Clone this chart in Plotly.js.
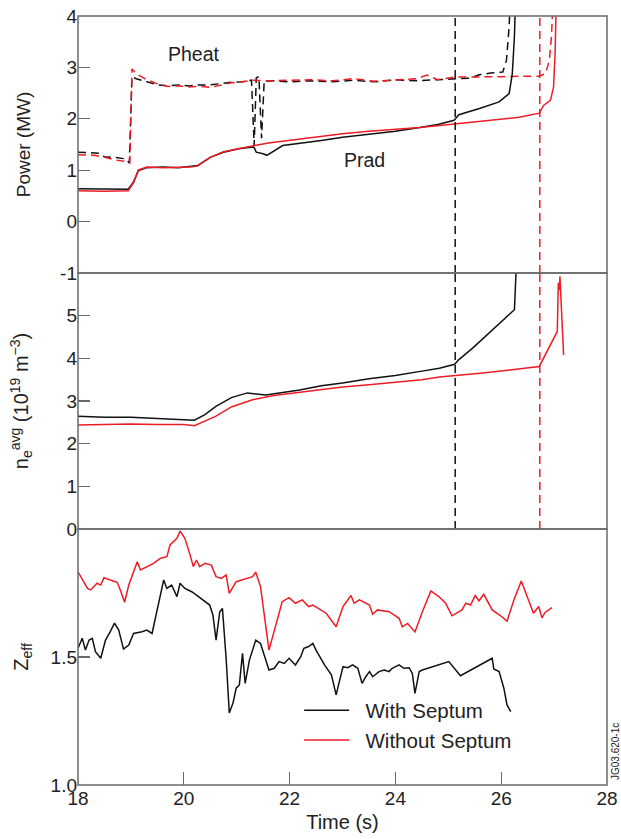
<!DOCTYPE html>
<html>
<head>
<meta charset="utf-8">
<script src="https://cdn.plot.ly/plotly-3.0.1.min.js"></script>
<style>
  html, body { margin: 0; padding: 0; background: #fff; }
  #chart { width: 621px; height: 839px; }
</style>
</head>
<body>
<div id="chart"></div>
<script>
// ---------- Data ----------
// Panel 1: heating power (dashed) and radiated power (solid), MW
const pheatWithT = [18.0, 18.2, 18.4, 18.5, 18.7, 18.9, 18.97, 19.02, 19.1, 19.3, 19.5, 19.7, 19.9, 20.1, 20.3, 20.5, 20.7, 20.9, 21.1, 21.28, 21.33, 21.37, 21.42, 21.47, 21.52, 21.55, 21.7, 22.0, 22.4, 22.8, 23.2, 23.6, 24.0, 24.4, 24.8, 25.1, 25.4, 25.6, 25.8, 26.03, 26.1, 26.15, 26.17];
const pheatWithV = [1.35, 1.34, 1.33, 1.26, 1.25, 1.22, 1.14, 2.82, 2.78, 2.72, 2.66, 2.64, 2.66, 2.64, 2.66, 2.66, 2.69, 2.71, 2.72, 2.75, 1.48, 2.80, 2.82, 1.62, 2.74, 2.73, 2.74, 2.72, 2.74, 2.72, 2.75, 2.72, 2.76, 2.74, 2.76, 2.77, 2.79, 2.86, 2.89, 2.91, 3.14, 3.8, 4.3];

const pheatWithoutT = [18.0, 18.3, 18.5, 18.7, 18.9, 18.98, 19.02, 19.1, 19.3, 19.5, 19.7, 19.9, 20.1, 20.3, 20.5, 20.7, 20.9, 21.1, 21.3, 21.6, 22.0, 22.4, 22.8, 23.2, 23.6, 24.0, 24.4, 24.6, 24.8, 25.1, 25.5, 26.0, 26.5, 26.72, 26.84, 26.91, 26.95, 26.98];
const pheatWithoutV = [1.30, 1.29, 1.25, 1.20, 1.17, 1.14, 2.97, 2.88, 2.76, 2.68, 2.63, 2.64, 2.62, 2.63, 2.61, 2.65, 2.70, 2.72, 2.75, 2.74, 2.75, 2.76, 2.74, 2.78, 2.73, 2.76, 2.78, 2.85, 2.76, 2.81, 2.82, 2.82, 2.83, 2.83, 2.88, 3.14, 3.6, 4.3];

const pradWithT = [18.0, 18.5, 18.95, 19.05, 19.14, 19.3, 19.6, 19.9, 20.1, 20.26, 20.5, 20.75, 21.06, 21.32, 21.34, 21.37, 21.5, 21.57, 21.87, 22.19, 22.6, 23.0, 23.5, 24.0, 24.46, 24.8, 25.11, 25.2, 25.59, 25.96, 26.15, 26.21, 26.25, 26.27];
const pradWithV = [0.64, 0.63, 0.63, 0.77, 0.99, 1.05, 1.06, 1.05, 1.07, 1.09, 1.25, 1.35, 1.42, 1.45, 1.42, 1.35, 1.32, 1.29, 1.48, 1.53, 1.58, 1.64, 1.70, 1.76, 1.83, 1.89, 1.97, 2.08, 2.20, 2.33, 2.49, 2.88, 3.6, 4.3];

const pradWithoutT = [18.0, 18.5, 18.95, 19.05, 19.14, 19.3, 19.6, 19.9, 20.1, 20.26, 20.5, 20.75, 21.06, 21.34, 21.6, 21.9, 22.19, 22.6, 23.0, 23.5, 24.0, 24.46, 25.11, 25.7, 26.34, 26.72, 26.8, 26.93, 26.99, 27.02, 27.04];
const pradWithoutV = [0.60, 0.59, 0.60, 0.76, 1.00, 1.06, 1.05, 1.06, 1.06, 1.08, 1.25, 1.36, 1.43, 1.48, 1.53, 1.57, 1.61, 1.66, 1.71, 1.76, 1.80, 1.83, 1.90, 1.96, 2.03, 2.11, 2.26, 2.36, 2.62, 3.3, 4.3];

// Panel 2: line-averaged density, 10^19 m^-3
const neWithT = [18.0, 18.5, 19.0, 19.4, 19.8, 20.2, 20.4, 20.6, 20.9, 21.2, 21.55, 21.9, 22.19, 22.6, 23.0, 23.5, 24.0, 24.5, 24.83, 25.12, 25.2, 25.46, 25.77, 26.09, 26.25, 26.28];
const neWithV = [2.64, 2.62, 2.62, 2.60, 2.57, 2.55, 2.68, 2.87, 3.08, 3.19, 3.14, 3.20, 3.26, 3.36, 3.42, 3.52, 3.60, 3.70, 3.77, 3.86, 3.97, 4.24, 4.59, 4.94, 5.14, 6.0];

const neWithoutT = [18.0, 18.5, 19.0, 19.5, 20.0, 20.2, 20.6, 20.9, 21.3, 21.7, 22.19, 22.6, 23.0, 23.5, 24.0, 24.5, 24.83, 25.11, 25.6, 26.2, 26.72, 27.06, 27.08, 27.1, 27.11, 27.18];
const neWithoutV = [2.44, 2.45, 2.46, 2.45, 2.45, 2.42, 2.64, 2.86, 3.03, 3.13, 3.20, 3.26, 3.33, 3.38, 3.44, 3.50, 3.56, 3.59, 3.65, 3.73, 3.81, 4.63, 5.77, 5.6, 5.92, 4.08];

// Panel 3: Zeff
const zeffWithT = [18.0, 18.08, 18.14, 18.21, 18.27, 18.33, 18.43, 18.52, 18.61, 18.69, 18.77, 18.86, 18.96, 19.05, 19.21, 19.3, 19.4, 19.49, 19.62, 19.68, 19.77, 19.87, 19.93, 20.02, 20.15, 20.24, 20.4, 20.49, 20.55, 20.61, 20.68, 20.73, 20.8, 20.86, 20.93, 20.99, 21.05, 21.11, 21.16, 21.24, 21.36, 21.45, 21.61, 21.71, 21.8, 21.9, 21.99, 22.11, 22.21, 22.27, 22.35, 22.44, 22.5, 22.57, 22.66, 22.79, 22.88, 22.94, 23.01, 23.1, 23.19, 23.29, 23.37, 23.44, 23.51, 23.57, 23.69, 23.79, 23.88, 23.94, 24.0, 24.07, 24.16, 24.26, 24.32, 24.37, 24.45, 24.51, 25.01, 25.23, 25.83, 25.86, 25.96, 26.05, 26.11, 26.18];
const zeffWithV = [1.534, 1.573, 1.527, 1.566, 1.573, 1.521, 1.495, 1.566, 1.599, 1.632, 1.605, 1.531, 1.547, 1.592, 1.599, 1.605, 1.592, 1.677, 1.801, 1.768, 1.781, 1.736, 1.788, 1.768, 1.755, 1.742, 1.716, 1.703, 1.664, 1.566, 1.677, 1.690, 1.495, 1.281, 1.320, 1.378, 1.391, 1.514, 1.397, 1.488, 1.566, 1.553, 1.449, 1.456, 1.482, 1.475, 1.495, 1.469, 1.501, 1.534, 1.540, 1.553, 1.527, 1.501, 1.469, 1.430, 1.352, 1.404, 1.462, 1.458, 1.469, 1.456, 1.397, 1.423, 1.443, 1.423, 1.443, 1.449, 1.443, 1.456, 1.462, 1.469, 1.456, 1.458, 1.436, 1.358, 1.443, 1.449, 1.482, 1.427, 1.495, 1.453, 1.443, 1.378, 1.313, 1.287];

const zeffWithoutT = [18.0, 18.18, 18.24, 18.36, 18.43, 18.49, 18.61, 18.74, 18.8, 18.88, 18.96, 19.05, 19.12, 19.18, 19.3, 19.43, 19.55, 19.68, 19.74, 19.87, 19.93, 20.02, 20.12, 20.18, 20.24, 20.3, 20.4, 20.52, 20.61, 20.71, 20.8, 20.86, 20.99, 21.17, 21.3, 21.36, 21.45, 21.61, 21.74, 21.86, 21.99, 22.11, 22.24, 22.36, 22.44, 22.69, 22.88, 23.01, 23.16, 23.22, 23.32, 23.51, 23.57, 23.66, 23.88, 24.07, 24.13, 24.23, 24.37, 24.51, 24.67, 24.82, 24.95, 25.07, 25.26, 25.33, 25.42, 25.51, 25.58, 25.67, 25.83, 25.99, 26.11, 26.24, 26.38, 26.49, 26.61, 26.71, 26.77, 26.83, 26.96];
const zeffWithoutV = [1.833, 1.768, 1.762, 1.788, 1.781, 1.810, 1.801, 1.792, 1.762, 1.714, 1.781, 1.833, 1.872, 1.840, 1.853, 1.866, 1.885, 1.892, 1.938, 1.964, 1.992, 1.964, 1.898, 1.853, 1.879, 1.853, 1.866, 1.859, 1.814, 1.807, 1.820, 1.749, 1.794, 1.807, 1.814, 1.831, 1.775, 1.527, 1.625, 1.716, 1.732, 1.710, 1.723, 1.697, 1.703, 1.671, 1.618, 1.697, 1.740, 1.710, 1.723, 1.703, 1.667, 1.684, 1.677, 1.651, 1.618, 1.631, 1.598, 1.677, 1.758, 1.736, 1.710, 1.661, 1.684, 1.710, 1.703, 1.740, 1.719, 1.745, 1.684, 1.661, 1.640, 1.723, 1.797, 1.736, 1.671, 1.697, 1.653, 1.674, 1.693];

// Marker times (vertical dashed lines)
const markerTimes = [25.13, 26.73];
const markerNames = ['With Septum', 'Without Septum'];

// Axis ticks
const xTicks = [18, 20, 22, 24, 26, 28];
const powerTicks = [-1, 0, 1, 2, 3, 4];
const powerTickText = ['-1', '0', '1', '2', '3', '4'];
const neTicks = [0, 1, 2, 3, 4, 5];
const zeffTicks = [1.0, 1.5];
const zeffTickText = ['1.0', '1.5'];

// ---------- Styling ----------
const BLACK = '#111111';
const RED = '#ee1c25';
const FRAME = '#6a6a6a';
const FONT = 'Liberation Sans, Arial, Helvetica, sans-serif';
const LW = 1.5;
const DASH = '8px,5px';
const NB = '\u00a0';

const traces = [];
// Zeff (legend traces first)
traces.push({x: zeffWithT, y: zeffWithV, xaxis: 'x', yaxis: 'y3', mode: 'lines', name: NB + NB + 'With Septum',
  line: {color: BLACK, width: LW}, showlegend: true});
traces.push({x: zeffWithoutT, y: zeffWithoutV, xaxis: 'x', yaxis: 'y3', mode: 'lines', name: NB + NB + 'Without Septum',
  line: {color: RED, width: LW}, showlegend: true});
// Power
traces.push({x: pheatWithT, y: pheatWithV, xaxis: 'x', yaxis: 'y', mode: 'lines', name: 'Pheat with',
  line: {color: BLACK, width: LW, dash: DASH}, showlegend: false});
traces.push({x: pheatWithoutT, y: pheatWithoutV, xaxis: 'x', yaxis: 'y', mode: 'lines', name: 'Pheat without',
  line: {color: RED, width: LW, dash: DASH}, showlegend: false});
traces.push({x: pradWithT, y: pradWithV, xaxis: 'x', yaxis: 'y', mode: 'lines', name: 'Prad with',
  line: {color: BLACK, width: LW}, showlegend: false});
traces.push({x: pradWithoutT, y: pradWithoutV, xaxis: 'x', yaxis: 'y', mode: 'lines', name: 'Prad without',
  line: {color: RED, width: LW}, showlegend: false});
// Density
traces.push({x: neWithT, y: neWithV, xaxis: 'x', yaxis: 'y2', mode: 'lines', name: 'ne with',
  line: {color: BLACK, width: LW}, showlegend: false});
traces.push({x: neWithoutT, y: neWithoutV, xaxis: 'x', yaxis: 'y2', mode: 'lines', name: 'ne without',
  line: {color: RED, width: LW}, showlegend: false});
// Vertical dashed markers through panels 1 and 2
const markerColors = [BLACK, RED];
markerTimes.forEach(function (t, i) {
  traces.push({x: [t, t], y: [-1, 4], xaxis: 'x', yaxis: 'y', mode: 'lines', name: markerNames[i] + ' time',
    line: {color: markerColors[i], width: LW, dash: DASH}, showlegend: false, hoverinfo: 'skip'});
  traces.push({x: [t, t], y: [0, 6], xaxis: 'x', yaxis: 'y2', mode: 'lines', name: markerNames[i] + ' time',
    line: {color: markerColors[i], width: LW, dash: DASH}, showlegend: false, hoverinfo: 'skip'});
});

const d3 = 256 / 769;
const d2 = 512 / 769;

const yCommon = {
  ticks: 'inside', ticklen: 12, tickwidth: 1.2, tickcolor: FRAME,
  showgrid: false, zeroline: false, showline: false, anchor: 'x',
  tickfont: {family: FONT, size: 19, color: '#222'},
  title: {font: {family: FONT, size: 19, color: '#222'}}
};

const layout = {
  width: 621, height: 839,
  margin: {l: 78, r: 14, t: 16, b: 54},
  paper_bgcolor: '#ffffff', plot_bgcolor: '#ffffff',
  font: {family: FONT, size: 19, color: '#222'},
  showlegend: true,
  legend: {x: 0.418, y: 0.123, xanchor: 'left', yanchor: 'top', bgcolor: 'rgba(0,0,0,0)',
    font: {family: FONT, size: 20.5, color: '#222'}, tracegroupgap: 0, itemwidth: 45},
  xaxis: {
    range: [18, 28], anchor: 'y3', tickvals: xTicks,
    ticks: 'inside', ticklen: 13, tickwidth: 1.2, tickcolor: FRAME,
    showgrid: false, zeroline: false, showline: false,
    tickfont: {family: FONT, size: 19, color: '#222'},
    title: {text: 'Time (s)', standoff: 6, font: {family: FONT, size: 20, color: '#222'}}
  },
  yaxis: Object.assign({}, yCommon, {domain: [d2, 1], range: [-1, 4], tickvals: powerTicks, ticktext: powerTickText,
    title: {text: 'Power (MW)', font: yCommon.title.font}}),
  yaxis2: Object.assign({}, yCommon, {domain: [d3, d2], range: [0, 6], tickvals: neTicks,
    title: {text: 'n<sub>e</sub><sup>avg</sup> (10<sup>19</sup> m<sup>−3</sup>)', font: {family: FONT, size: 20, color: '#222'}}}),
  yaxis3: Object.assign({}, yCommon, {domain: [0, d3], range: [1, 2], tickvals: zeffTicks, ticktext: zeffTickText,
    title: {text: 'Z<sub>eff</sub>' + NB + NB + NB + NB + NB, font: {family: FONT, size: 20, color: '#222'}}}),
  shapes: [
    {type: 'rect', xref: 'paper', yref: 'paper', x0: 0, x1: 1, y0: d2, y1: 1, line: {color: FRAME, width: 1.5}},
    {type: 'rect', xref: 'paper', yref: 'paper', x0: 0, x1: 1, y0: d3, y1: d2, line: {color: FRAME, width: 1.5}},
    {type: 'rect', xref: 'paper', yref: 'paper', x0: 0, x1: 1, y0: 0, y1: d3, line: {color: FRAME, width: 1.5}}
  ],
  annotations: [
    {text: 'Pheat', x: 20.19, y: 3.26, xref: 'x', yref: 'y', showarrow: false,
      font: {family: FONT, size: 19.5, color: '#222'}},
    {text: 'Prad', x: 23.42, y: 1.19, xref: 'x', yref: 'y', showarrow: false,
      font: {family: FONT, size: 19.5, color: '#222'}},
    {text: 'JG03.620-1c', xref: 'paper', yref: 'paper', x: (615 - 78) / 529, y: (785 - 752) / 769,
      textangle: -90, showarrow: false, xanchor: 'center', yanchor: 'middle',
      font: {family: FONT, size: 10, color: '#222'}}
  ]
};

Plotly.newPlot('chart', traces, layout, {staticPlot: true, displayModeBar: false});
</script>
</body>
</html>
